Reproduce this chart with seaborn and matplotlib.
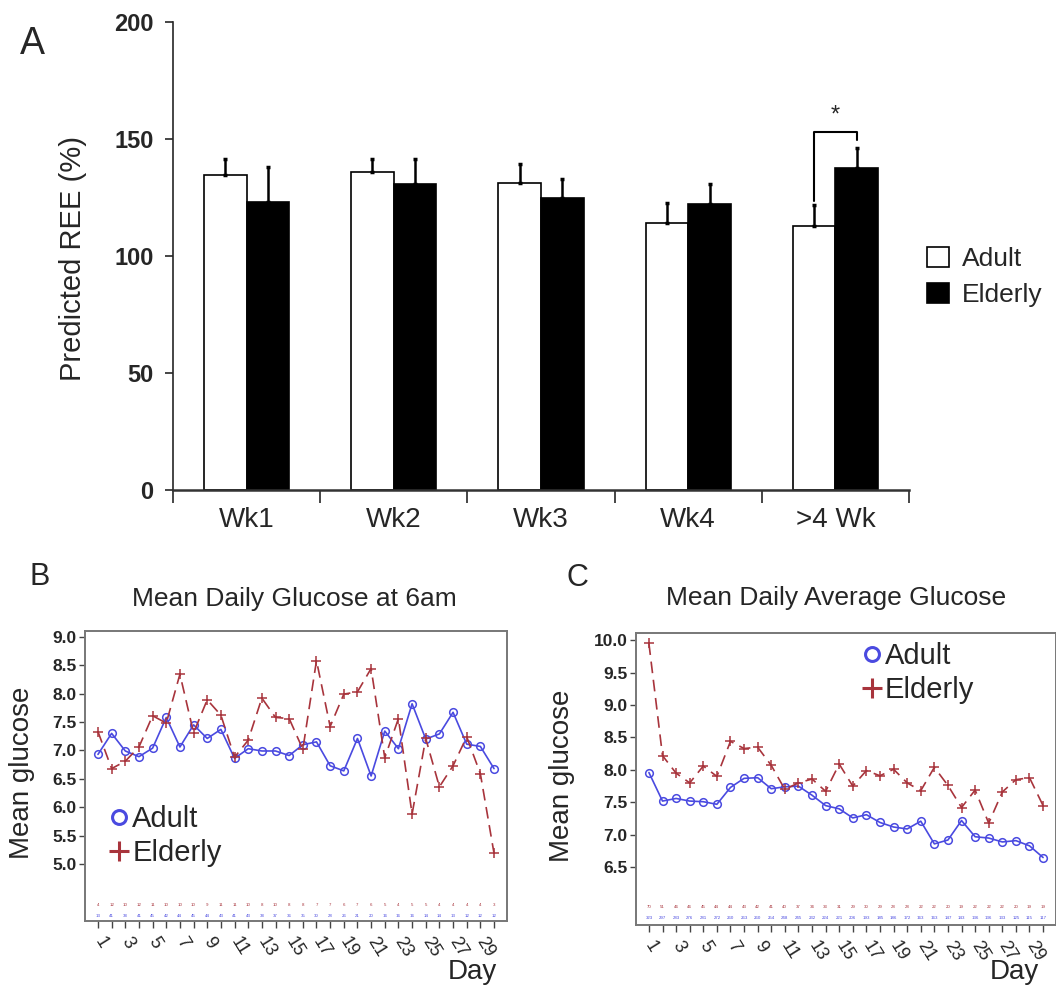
import numpy as np
import pandas as pd
import seaborn as sns
import matplotlib.pyplot as plt
from matplotlib.patches import Patch
from matplotlib.lines import Line2D

# ---------------- data ----------------
weeks = ["Wk1", "Wk2", "Wk3", "Wk4", ">4 Wk"]
ree_adult = [134.5, 136.1, 131.3, 114.3, 112.8]
ree_elderly = [122.9, 130.8, 124.8, 122.4, 137.6]
err_adult = [7.0, 5.2, 8.2, 8.4, 9.0]
err_elderly = [15.0, 10.8, 8.1, 8.4, 8.7]

days = list(range(1, 31))

# B: glucose at 6am
g6_adult = [6.93, 7.30, 6.99, 6.89, 7.04, 7.58, 7.06, 7.45, 7.21, 7.37,
            6.86, 7.03, 6.99, 6.99, 6.91, 7.10, 7.15, 6.73, 6.64, 7.21,
            6.55, 7.34, 7.03, 7.82, 7.20, 7.29, 7.67, 7.11, 7.07, 6.68]
g6_elderly = [7.33, 6.68, 6.81, 7.06, 7.61, 7.48, 8.34, 7.31, 7.89, 7.62,
              6.88, 7.18, 7.92, 7.58, 7.56, 7.02, 8.58, 7.42, 7.99, 8.03,
              8.44, 6.87, 7.56, 5.88, 7.21, 6.36, 6.73, 7.24, 6.59, 5.19]
n6_adult = [13, 41, 38, 41, 45, 42, 44, 45, 44, 43, 41, 43, 38, 37, 36,
            35, 30, 28, 26, 21, 20, 16, 16, 16, 14, 14, 13, 12, 12, 12]
n6_elderly = [4, 12, 10, 12, 11, 10, 10, 10, 9, 11, 11, 10, 8, 10, 8,
              8, 7, 7, 6, 7, 6, 5, 4, 5, 5, 4, 4, 4, 4, 3]

# C: daily average glucose
ga_adult = [7.96, 7.52, 7.56, 7.52, 7.51, 7.47, 7.73, 7.87, 7.88, 7.71,
            7.74, 7.75, 7.61, 7.45, 7.40, 7.26, 7.31, 7.19, 7.12, 7.09,
            7.21, 6.86, 6.92, 7.22, 6.97, 6.95, 6.89, 6.91, 6.83, 6.65]
ga_elderly = [9.95, 8.22, 7.95, 7.80, 8.06, 7.90, 8.44, 8.33, 8.35, 8.07,
              7.70, 7.80, 7.86, 7.67, 8.09, 7.75, 7.99, 7.91, 8.01, 7.80,
              7.68, 8.04, 7.76, 7.42, 7.69, 7.18, 7.66, 7.85, 7.88, 7.45]
na_adult = [323, 297, 283, 276, 281, 272, 260, 263, 260, 254, 248, 245, 232, 224, 221,
            206, 193, 185, 186, 172, 163, 163, 147, 143, 136, 136, 133, 125, 115, 117]
na_elderly = [70, 51, 46, 46, 45, 44, 44, 43, 42, 41, 40, 37, 34, 33, 31,
              29, 30, 29, 28, 28, 22, 22, 20, 19, 22, 22, 22, 20, 19, 19]

sns.set_style("ticks")
plt.rcParams["font.family"] = ["Liberation Sans", "DejaVu Sans"]

BLUE = "#4a4ae0"
RED = "#a8343c"
W, H = 1056, 988

fig = plt.figure(figsize=(W / 100, H / 100), dpi=100)


def box(l, t, r, b):
    return [l / W, 1 - b / H, (r - l) / W, (b - t) / H]


# ================= A: bar chart =================
ax = fig.add_axes(box(173, 22, 909, 490))
df = pd.DataFrame({
    "week": weeks * 2,
    "ree": ree_adult + ree_elderly,
    "group": ["Adult"] * 5 + ["Elderly"] * 5,
})
sns.barplot(data=df, x="week", y="ree", hue="group", order=weeks,
            palette={"Adult": "white", "Elderly": "black"}, width=0.58,
            edgecolor="black", linewidth=1.2, errorbar=None, legend=False, ax=ax)

for cont, errs in zip(ax.containers, [err_adult, err_elderly]):
    xs = [p.get_x() + p.get_width() / 2 for p in cont]
    ys = [p.get_height() for p in cont]
    ax.errorbar(xs, ys, yerr=[[0] * len(errs), errs], fmt="none",
                ecolor="black", elinewidth=1.8, capsize=1.5, capthick=2.5, zorder=3)

# significance bracket on last group
c_ad = ax.containers[0][4]
c_el = ax.containers[1][4]
xa = c_ad.get_x() + c_ad.get_width() / 2
xe = c_el.get_x() + c_el.get_width() / 2
ax.plot([xa, xa, xe, xe], [123.5, 153, 153, 149.5], color="black", lw=1.5)
ax.text((xa + xe) / 2, 160, "*", ha="center", va="center", fontsize=17)

ax.set_xlim(-0.5, 4.5)
ax.set_ylim(0, 200)
ax.set_yticks([0, 50, 100, 150, 200])
ax.set_xlabel("")
ax.set_ylabel("")
ax.set_xticks(range(5))
ax.set_xticklabels(weeks, fontsize=20)
ax.set_xticks(np.arange(-0.5, 5, 1), minor=True)
ax.tick_params(axis="x", which="major", length=0, pad=12)
ax.tick_params(axis="x", which="minor", length=9, width=1.2, direction="out")
ax.tick_params(axis="y", length=6, width=1.2, direction="out", pad=8)
for lab in ax.get_yticklabels():
    lab.set_family(["Liberation Sans Narrow", "Liberation Sans"])
    lab.set_fontweight("bold")
    lab.set_fontsize(17)
sns.despine(ax=ax)
ax.spines["left"].set_linewidth(1.2)
ax.spines["bottom"].set_linewidth(1.8)
ax.spines["bottom"].set_color("#333333")

fig.text(73 / W, 1 - 258 / H, "Predicted REE (%)", rotation=90,
         ha="center", va="center", fontsize=21)
fig.text(20 / W, 1 - 44 / H, "A", ha="left", va="center", fontsize=27)

leg_handles = [Patch(facecolor="white", edgecolor="black", lw=1.2, label="Adult"),
               Patch(facecolor="black", edgecolor="black", lw=1.2, label="Elderly")]
ax.legend(handles=leg_handles, loc="center left", bbox_to_anchor=(1.0, 0.455),
          frameon=False, fontsize=19, handlelength=0.8, handleheight=0.8,
          handletextpad=0.5, labelspacing=0.45, borderaxespad=0.3)


# ================= B and C: line charts =================
def glucose_panel(rect, adult, elderly, n_ad, n_el, ylim, yticks, n_y, title,
                  title_xy, letter, letter_xy, ylab_xy, day_xy, leg_anchor):
    a = fig.add_axes(rect)
    sns.lineplot(x=days, y=adult, ax=a, color=BLUE, lw=1.2, marker="o",
                 markersize=5.5, markerfacecolor="none", markeredgecolor=BLUE,
                 markeredgewidth=1.1)
    sns.lineplot(x=days, y=elderly, ax=a, color=RED, lw=1.2, marker="+",
                 markersize=6.5, markeredgecolor=RED, markeredgewidth=1.1,
                 linestyle=(0, (7, 4)))
    for d, na, ne in zip(days, n_ad, n_el):
        a.text(d, n_y[1], str(na), color=BLUE, fontsize=3.2, ha="center", va="center")
        a.text(d, n_y[0], str(ne), color=RED, fontsize=3.2, ha="center", va="center")
    a.set_xlim(0.05, 30.95)
    a.set_ylim(*ylim)
    a.set_yticks(yticks)
    a.set_yticklabels([f"{v:.1f}" for v in yticks], fontsize=12.5, fontweight="bold")
    a.set_xticks(days)
    a.set_xticklabels([str(d) if d % 2 else "" for d in days], fontsize=13,
                      rotation=-58, ha="left", va="center", rotation_mode="anchor")
    a.tick_params(axis="x", length=5, width=1, direction="out", pad=8, color="#444444")
    a.tick_params(axis="y", length=4, width=1, direction="out", pad=2, color="#444444")
    a.set_xlabel("")
    a.set_ylabel("")
    for s in a.spines.values():
        s.set_color("#777777")
        s.set_linewidth(1.4)
    hs = [Line2D([], [], ls="none", marker="o", markersize=10, mfc="none",
                 mec=BLUE, mew=2.2, label="Adult"),
          Line2D([], [], ls="none", marker="+", markersize=15, mec=RED,
                 mew=2.2, label="Elderly")]
    a.legend(handles=hs, loc="center left", bbox_to_anchor=leg_anchor, frameon=False,
             fontsize=21, handlelength=0.6, handletextpad=0.15, labelspacing=0.2,
             borderaxespad=0, borderpad=0)
    fig.text(title_xy[0] / W, 1 - title_xy[1] / H, title, ha="center", va="center",
             fontsize=19)
    fig.text(letter_xy[0] / W, 1 - letter_xy[1] / H, letter, ha="left", va="center",
             fontsize=22)
    fig.text(ylab_xy[0] / W, 1 - ylab_xy[1] / H, "Mean glucose", rotation=90,
             ha="center", va="center", fontsize=20)
    fig.text(day_xy[0] / W, 1 - day_xy[1] / H, "Day", ha="center", va="center",
             fontsize=20)
    return a


glucose_panel(box(85, 631, 507, 921), g6_adult, g6_elderly, n6_adult, n6_elderly,
              (4.0, 9.1), np.arange(5.0, 9.01, 0.5), (4.28, 4.09),
              "Mean Daily Glucose at 6am", (294, 599), "B", (30, 577),
              (22, 773), (472, 972), (0.06, 0.293))

glucose_panel(box(636, 633, 1056, 925), ga_adult, ga_elderly, na_adult, na_elderly,
              (5.61, 10.11), np.arange(6.5, 10.01, 0.5), (5.89, 5.72),
              "Mean Daily Average Glucose", (836, 598), "C", (566, 578),
              (562, 776), (1014, 972), (0.54, 0.862))

fig.savefig("out.png", dpi=100)
